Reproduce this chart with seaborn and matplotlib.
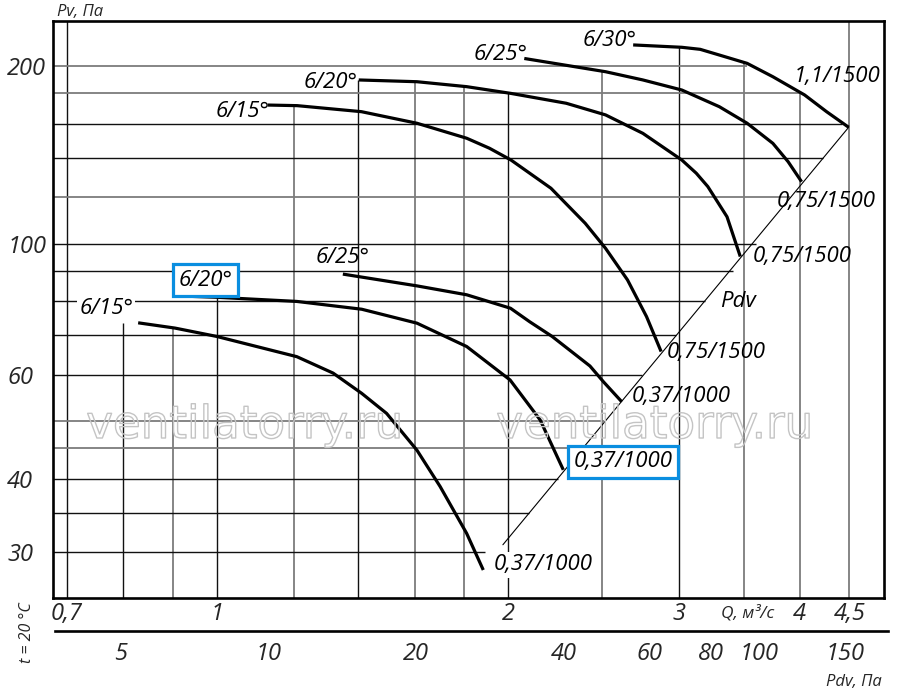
import numpy as np
import pandas as pd
import matplotlib
matplotlib.use("Agg")
import matplotlib.pyplot as plt
import matplotlib.patheffects as pe
from matplotlib.ticker import NullLocator, FixedLocator, FixedFormatter
import seaborn as sns

# ---------------- data ----------------
# fan curves: Q, m3/s  and  Pv, Pa
a_q = [0.829, 0.905, 0.999, 1.209, 1.318, 1.411, 1.497, 1.609, 1.700, 1.811, 1.884]
a_p = [73.5, 72.0, 69.7, 64.4, 60.4, 55.8, 51.6, 44.7, 38.8, 32.3, 28.0]
b_q = [0.920, 1.0, 1.209, 1.411, 1.609, 1.811, 2.008, 2.157, 2.279]
b_p = [81.6, 81.2, 79.9, 77.5, 73.4, 67.0, 58.8, 50.3, 41.4]
c_q = [1.349, 1.609, 1.811, 2.010, 2.104, 2.219, 2.428, 2.507, 2.619]
c_p = [88.9, 84.9, 82.0, 77.8, 73.8, 69.7, 62.1, 58.4, 54.0]
d_q = [1.128, 1.210, 1.410, 1.609, 1.811, 1.912, 2.012, 2.213, 2.401, 2.520,
       2.655, 2.778, 2.876]
d_p = [172.0, 171.6, 167.6, 160.2, 151.1, 145.3, 138.8, 124.3, 108.4, 98.3,
       86.9, 75.3, 65.7]
e_q = [1.401, 1.609, 1.811, 2.012, 2.295, 2.520, 2.754, 3.021, 3.127, 3.214,
       3.364, 3.472]
e_p = [189.7, 188.4, 184.8, 180.0, 173.2, 165.5, 154.0, 138.8, 131.8, 125.1,
       111.2, 95.2]
f_q = [2.077, 2.520, 2.754, 3.021, 3.303, 3.529, 3.752, 3.890, 4.017]
f_p = [206.3, 195.9, 189.7, 182.4, 170.9, 160.2, 148.1, 137.9, 127.5]
g_q = [2.691, 3.021, 3.156, 3.303, 3.529, 3.752, 4.046, 4.263, 4.493]
g_p = [217.5, 215.5, 213.8, 209.1, 202.4, 192.1, 178.9, 167.6, 157.7]

curve_names = ["A", "B", "C", "D", "E", "F", "G"]
curve_angle = ["6/15°", "6/20°", "6/25°", "6/15°", "6/20°", "6/25°", "6/30°"]
curve_motor = ["0,37/1000", "0,37/1000", "0,37/1000", "0,75/1500",
               "0,75/1500", "0,75/1500", "1,1/1500"]

# dynamic-pressure line (two end points)
pdv_q = [1.974, 4.493]
pdv_p = [30.9, 157.7]

# grid lines (they are clipped to the working area of the chart)
q_grid = [0.7, 0.8, 0.9, 1.0, 1.2, 1.4, 1.6, 1.8, 2.0, 2.5, 3.0, 3.5, 4.0, 4.5]
q_grid_top = [None, 73.5, 72.0, 81.2, 171.6, 189.7, 188.4, 184.8, 180.0,
              195.9, 215.5, 202.4, 180.0, None]
q_grid_dark = [True, True, False, True, False, True, False, False, True,
               False, True, False, False, False]
p_grid = [200, 180, 160, 140, 120, 100, 90, 80, 70, 60, 50, 45, 40, 35, 30]
p_grid_end = [3.53, 4.02, 4.42, 4.23, 3.91, 3.60, 3.41, 3.19, 2.98, 2.75,
              2.51, 2.38, 2.25, 2.10, 1.89]
p_grid_dark = [False, False, True, True, False, True, True, True, True, True,
               False, False, True, True, True]

# axes ticks
q_ticks = [0.7, 1, 2, 3, 4, 4.5]
q_tick_labels = ["0,7", "1", "2", "3", "4", "4,5"]
p_ticks = [30, 40, 60, 100, 200]
p_tick_labels = ["30", "40", "60", "100", "200"]
pdv_ticks = [5, 10, 20, 40, 60, 80, 100, 150]
pdv_tick_labels = ["5", "10", "20", "40", "60", "80", "100", "150"]

# ---------------- styling ----------------
sns.set_theme(style="white")
plt.rcParams["font.family"] = ["Open Sans", "Noto Sans", "DejaVu Sans"]
plt.rcParams["font.style"] = "italic"

W, H = 900, 691
fig = plt.figure(figsize=(W / 100, H / 100), dpi=100)
ax = fig.add_axes([53 / W, 1 - 598 / H, (884 - 53) / W, (598 - 21) / H])
ax.set_xscale("log")
ax.set_yscale("log")
XL = (0.677, 4.887)
YL = (25.1, 238.8)
ax.set_xlim(*XL)
ax.set_ylim(*YL)

BLACK = "#111111"
GRAY = "#7c7c7c"

for q, top, dark in zip(q_grid, q_grid_top, q_grid_dark):
    ax.vlines(q, YL[0], YL[1] if top is None else top,
              color=BLACK if dark else GRAY, lw=1.0 if dark else 1.3, zorder=1)
for p, end, dark in zip(p_grid, p_grid_end, p_grid_dark):
    ax.hlines(p, XL[0], end, color=BLACK if dark else GRAY,
              lw=1.0 if dark else 1.3, zorder=1)

# curves
qs = [a_q, b_q, c_q, d_q, e_q, f_q, g_q]
ps = [a_p, b_p, c_p, d_p, e_p, f_p, g_p]
frames = [pd.DataFrame({"Q": q, "P": p, "curve": n})
          for n, q, p in zip(curve_names, qs, ps)]
df = pd.concat(frames, ignore_index=True)
sns.lineplot(data=df, x="Q", y="P", units="curve", estimator=None, sort=False,
             color="black", lw=2.3, ax=ax, zorder=4, legend=False)
for ln in ax.get_lines():
    ln.set_solid_joinstyle("round")
    ln.set_solid_capstyle("butt")
sns.lineplot(x=pdv_q, y=pdv_p, color="black", lw=0.8, ax=ax, zorder=3,
             legend=False)
ax.set_xlabel("")
ax.set_ylabel("")

# spines
for s in ax.spines.values():
    s.set_visible(True)
    s.set_color("black")
    s.set_linewidth(1.9)
    s.set_zorder(5)

# ticks
ax.xaxis.set_minor_locator(NullLocator())
ax.yaxis.set_minor_locator(NullLocator())
ax.set_xticks(q_ticks)
ax.set_xticklabels(q_tick_labels)
ax.set_yticks(p_ticks)
ax.set_yticklabels(p_tick_labels)
ax.tick_params(axis="x", length=0, pad=3, labelsize=17)
ax.tick_params(axis="y", length=0, pad=33, labelsize=17)
for t in ax.get_yticklabels():
    t.set_ha("left")
    t.set_style("italic")
for t in ax.get_xticklabels():
    t.set_style("italic")

# secondary Pdv scale
ax2 = fig.add_axes([55 / W, 1 - 631 / H, (888 - 55) / W, 0.0001])
ax2.set_xscale("log")
ax2.set_xlim(3.68, 183.3)
ax2.xaxis.set_major_locator(FixedLocator(pdv_ticks))
ax2.xaxis.set_major_formatter(FixedFormatter(pdv_tick_labels))
ax2.xaxis.set_minor_locator(NullLocator())
ax2.set_yticks([])
ax2.patch.set_visible(False)
for k in ["left", "right", "top"]:
    ax2.spines[k].set_visible(False)
ax2.spines["bottom"].set_linewidth(1.9)
ax2.spines["bottom"].set_color("black")
ax2.tick_params(axis="x", direction="inout", length=11.5, width=1.2,
                color="black", pad=2, labelsize=17)
for t in ax2.get_xticklabels():
    t.set_style("italic")

# curve labels
txt = dict(fontsize=16, color="black", zorder=6, style="italic")
starts = {  # offsets in pixels (dx, dy) from curve start
    "A": (-5, 14), "B": (24, 16), "C": (27, 17), "D": (2, -6),
    "E": (-1, -3), "F": (3, 4), "G": (3, 4)}
ends = {  # offsets in pixels from curve end, left-aligned
    "A": (10, 5), "B": (10, 8), "C": (10, 5), "D": (6, -1),
    "E": (12, 0), "F": (-25, -20), "G": (-55, 51)}
white = dict(boxstyle="square,pad=0.1", fc="white", ec="none")
blue = dict(boxstyle="square,pad=0.25", fc="white", ec="#0a8ee0", lw=2.3)
for i, name in enumerate(curve_names):
    dx, dy = starts[name]
    kw = dict(txt)
    if name == "A":
        kw["bbox"] = white
    if name == "B":
        kw["bbox"] = blue
    ha = "center" if name == "B" else "right"
    ax.annotate(curve_angle[i], (qs[i][0], ps[i][0]), xytext=(dx, dy),
                textcoords="offset pixels", ha=ha, va="center",
                annotation_clip=False, **kw)
    dx, dy = ends[name]
    kw = dict(txt)
    if name == "A":
        kw["bbox"] = white
    if name == "B":
        kw["bbox"] = blue
    ax.annotate(curve_motor[i], (qs[i][-1], ps[i][-1]), xytext=(dx, dy),
                textcoords="offset pixels", ha="left", va="center",
                annotation_clip=False, **kw)

ax.annotate("Pdv", (pdv_q[1], pdv_p[1]), xytext=(-111, -174),
            textcoords="offset pixels", ha="center", va="center", **txt)

# axis titles
fig.text(57 / W, 1 - 16 / H, "Pv, Па", fontsize=12, ha="left", va="baseline",
         style="italic")
fig.text(27 / W, 1 - 633 / H, "t = 20 °C", fontsize=11.5, rotation=90,
         ha="center", va="center", style="italic")
fig.text(748 / W, 1 - 613 / H, "Q, м³/с", fontsize=12.5, ha="center",
         va="center", style="italic")
fig.text(854 / W, 1 - 682 / H, "Pdv, Па", fontsize=12, ha="center",
         va="center", style="italic")

# watermark
for cx in (245, 655):
    fig.text(cx / W, 1 - 438 / H, "ventilatorry.ru", fontsize=32.5,
             family="DejaVu Sans", style="normal", ha="center",
             va="baseline", color="none", zorder=2,
             path_effects=[pe.Stroke(linewidth=1.0, foreground="#c4c4c4")])

fig.savefig("out.png", dpi=100)
